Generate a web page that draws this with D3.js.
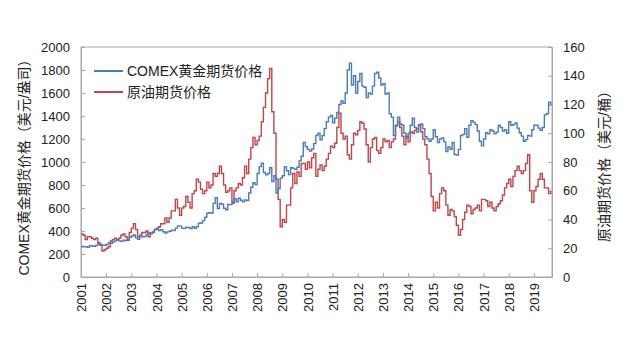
<!DOCTYPE html>
<html><head><meta charset="utf-8">
<script src="https://cdn.jsdelivr.net/npm/d3@7"></script>
<style>
html,body{margin:0;padding:0;background:#fff;}
svg{display:block;font-family:"Liberation Sans",Arial,"Noto Sans CJK SC",sans-serif;}
</style></head><body>
<svg id="c" width="630" height="342"></svg>
<script>
// ---- data (monthly, starting Jan 2001) ----
const startYear = 2001;
const years = d3.range(2001, 2020);
const goldTicks = [0,200,400,600,800,1000,1200,1400,1600,1800,2000];
const oilTicks = [0,20,40,60,80,100,120,140,160];
const seriesNames = ["COMEX黄金期货价格", "原油期货价格"];

const goldPrice = [
 265,262,263,258,272,270,268,275,290,283,276,276,
 282,296,294,303,314,322,314,310,319,317,319,345,
 357,365,340,328,358,350,351,368,385,379,392,412,
 418,405,412,393,383,392,398,408,405,425,445,442,
 424,423,434,429,422,438,424,437,468,470,490,520,
 555,560,557,640,690,596,640,632,598,585,630,629,
 640,680,655,685,667,655,670,665,730,780,820,803,
 900,960,990,909,888,900,950,830,880,730,770,860,
 880,960,924,890,950,945,934,955,1010,1050,1170,1134,
 1110,1095,1113,1160,1230,1250,1193,1230,1290,1350,1390,1405,
 1340,1380,1430,1500,1530,1510,1600,1800,1860,1670,1750,1600,
 1700,1770,1660,1650,1560,1600,1590,1660,1770,1780,1730,1670,
 1680,1590,1600,1420,1390,1230,1320,1390,1330,1320,1250,1210,
 1250,1320,1380,1300,1260,1320,1330,1290,1220,1200,1180,1200,
 1280,1220,1170,1200,1210,1175,1090,1130,1110,1170,1065,1060,
 1110,1230,1240,1290,1215,1320,1360,1345,1325,1270,1180,1140,
 1200,1255,1245,1280,1270,1245,1260,1320,1300,1270,1280,1250,
 1350,1320,1325,1340,1295,1255,1225,1180,1195,1230,1225,1280,
 1320,1320,1295,1275,1300,1410,1420,1520,1490
];

const oilPrice = [
 30,29,26,28,28,27,26,27,24,22,18,19,
 20,21,25,26,27,26,27,29,30,28,26,31,
 34,37,33,28,29,31,31,32,28,30,31,33,
 34,35,37,37,41,38,41,46,46,54,48,43,
 48,49,56,52,48,58,60,68,66,61,58,60,
 66,62,64,72,70,72,77,72,64,59,60,62,
 52,60,62,65,64,69,77,72,82,90,97,92,
 95,98,108,118,128,138,145,115,100,68,54,35,
 40,38,50,50,62,72,65,73,70,79,79,75,
 80,76,83,86,70,75,78,74,77,82,86,91,
 90,93,104,114,100,96,98,85,82,92,100,99,
 102,108,107,103,92,80,90,96,97,88,86,90,
 96,94,95,90,94,96,105,108,104,98,92,98,
 94,101,100,102,103,106,101,96,92,82,72,56,
 46,52,48,58,62,60,50,43,47,46,42,36,
 29,33,40,45,50,49,44,47,48,50,46,54,
 54,53,49,52,48,46,49,51,53,57,62,65,
 68,63,70,74,77,74,72,74,79,85,60,52,
 60,63,68,72,68,62,62,58,60
];

// ---- layout ----
const svg = d3.select("#c");
const L = 81, R = 552, T = 47, B = 277;
const dates = goldPrice.map((_, i) => startYear + i / 12);
const x = d3.scaleLinear().domain([2001, 2019.72]).range([L, R]);
const yG = d3.scaleLinear().domain([0, 2000]).range([B, T]);
const yO = d3.scaleLinear().domain([0, 160]).range([B, T]);

const blue = "#4a7cbc", red = "#c0464a", axisCol = "#a8a8a8", txt = "#222";

// plot box
svg.append("rect").attr("x", L).attr("y", T).attr("width", R - L).attr("height", B - T)
  .attr("fill", "none").attr("stroke", axisCol).attr("stroke-width", 1);

// left axis (ticks inward)
const gL = svg.append("g").attr("transform", `translate(${L},0)`)
  .call(d3.axisLeft(yG).tickValues(goldTicks).tickSize(-4).tickPadding(11).tickFormat(d3.format("d")));
// right axis
const gR = svg.append("g").attr("transform", `translate(${R},0)`)
  .call(d3.axisRight(yO).tickValues(oilTicks).tickSize(-4).tickPadding(11).tickFormat(d3.format("d")));
// bottom axis
const gB = svg.append("g").attr("transform", `translate(0,${B})`)
  .call(d3.axisBottom(x).tickValues(years).tickSize(-4).tickPadding(6).tickFormat(d3.format("d")));

[gL, gR, gB].forEach(g => {
  g.select(".domain").attr("stroke", axisCol);
  g.selectAll(".tick line").attr("stroke", axisCol);
  g.selectAll(".tick text").attr("fill", txt).style("font-size", "13px")
    .style("font-family", "'Liberation Sans',Arial,sans-serif");
});
gB.selectAll(".tick text")
  .attr("transform", "rotate(-90)")
  .attr("text-anchor", "end")
  .attr("x", -6).attr("y", 0).attr("dy", "0.35em");

// lines
const lineG = d3.line().x((d, i) => x(dates[i])).y(d => yG(d)).curve(d3.curveStepAfter);
const lineO = d3.line().x((d, i) => x(dates[i])).y(d => yO(d)).curve(d3.curveStepAfter);
svg.append("path").datum(oilPrice).attr("d", lineO).attr("fill", "none")
  .attr("stroke", red).attr("stroke-width", 1.4);
svg.append("path").datum(goldPrice).attr("d", lineG).attr("fill", "none")
  .attr("stroke", blue).attr("stroke-width", 1.4);

// legend
const leg = svg.append("g");
[[blue, seriesNames[0], 71], [red, seriesNames[1], 92]].forEach(([c, t, yy]) => {
  leg.append("line").attr("x1", 94).attr("x2", 123).attr("y1", yy).attr("y2", yy)
    .attr("stroke", c).attr("stroke-width", 2);
  leg.append("text").attr("x", 127).attr("y", yy).attr("dy", "0.36em")
    .attr("fill", txt).style("font-size", "14px").text(t);
});

// axis titles
svg.append("text").attr("transform", `translate(24,${(T + B) / 2 + 2}) rotate(-90)`)
  .attr("text-anchor", "middle").attr("dy", "0.35em").attr("fill", txt)
  .style("font-size", "14px").text("COMEX黄金期货价格（美元/盎司）");
svg.append("text").attr("transform", `translate(604,${(T + B) / 2 + 1}) rotate(-90)`)
  .attr("text-anchor", "middle").attr("dy", "0.35em").attr("fill", txt)
  .style("font-size", "14px").text("原油期货价格（美元/桶）");
</script>
</body></html>
